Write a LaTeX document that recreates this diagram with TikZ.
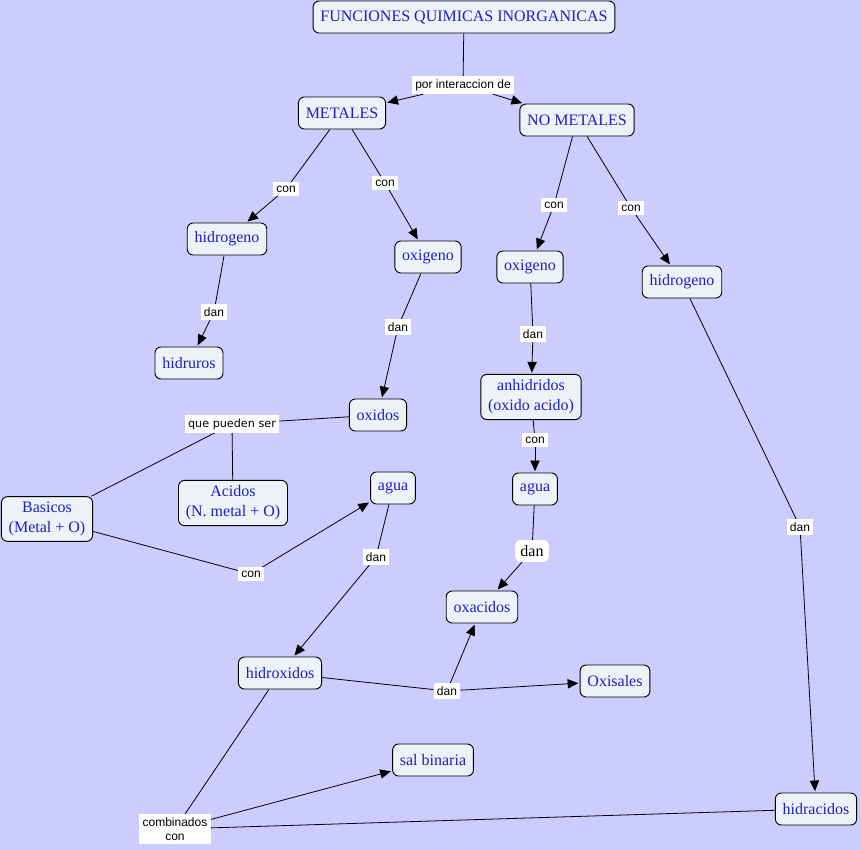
\documentclass[tikz,border=0pt]{standalone}
\usepackage{fontspec}
\setmainfont{Liberation Serif}
\setsansfont{Liberation Sans}
\newfontfamily\dejavu{DejaVu Sans}
\usetikzlibrary{arrows.meta}
\definecolor{bgc}{RGB}{204,204,255}
\definecolor{nodefill}{RGB}{236,242,246}
\definecolor{nodetext}{RGB}{30,30,200}
\tikzset{
  concept/.style={draw=black, line width=0.7pt, fill=nodefill, rounded corners=4.5pt,
    text=nodetext, font=\fontsize{12}{15}\selectfont, align=center,
    inner xsep=5.5pt, inner ysep=4pt, minimum height=24pt},
  linkl/.style={fill=white, text=black, font=\sffamily\fontsize{9}{10.5}\selectfont,
    align=center, inner xsep=2.5pt, inner ysep=2.5pt},
  biglink/.style={fill=white, text=black, rounded corners=4pt, font=\fontsize{12}{13.5}\selectfont,
    inner xsep=4pt, inner ysep=4pt},
  conn/.style={draw=black, line width=0.6pt},
  arr/.style={conn, -{Triangle[length=8pt,width=7pt]}, shorten >=1pt}
}
\begin{document}
\begin{tikzpicture}[x=0.75pt,y=-0.75pt]
\fill[bgc] (0,0) rectangle (861,850);
\useasboundingbox (0,0) rectangle (861,850);
% concepts
\node[concept] (fun) at (464,17) {FUNCIONES QUIMICAS INORGANICAS};
\node[concept] (met) at (342,113) {METALES};
\node[concept] (nomet) at (577,120) {NO METALES};
\node[concept] (hidL) at (227,239) {hidrogeno};
\node[concept] (oxiL) at (428,257) {oxigeno};
\node[concept] (hidruros) at (189,363) {hidruros};
\node[concept] (oxidos) at (378,415) {oxidos};
\node[concept] (bas) at (47,519) {Basicos\\(Metal + O)};
\node[concept] (aci) at (233,503) {Acidos\\(N. metal + O)};
\node[concept] (aguaL) at (393,488) {agua};
\node[concept] (hidrox) at (280,673) {hidroxidos};
\node[concept] (oxis) at (615,681) {Oxisales};
\node[concept] (salb) at (433,760) {sal binaria};
\node[concept] (oxiR) at (530,267) {oxigeno};
\node[concept] (hidR) at (682,282) {hidrogeno};
\node[concept] (anh) at (531,397) {anhidridos\\(oxido acido)};
\node[concept] (aguaR) at (535,489) {agua};
\node[concept] (oxac) at (482,607) {oxacidos};
\node[concept] (hidrac) at (816,809) {hidracidos};
% linking phrases
\node[linkl] (l1) at (463,85) {por interaccion de};
\node[linkl] (l2) at (286,189) {con};
\node[linkl] (l3) at (385,183) {con};
\node[linkl] (l4) at (214,312) {dan};
\node[linkl] (l5) at (398,327) {dan};
\node[linkl, font=\dejavu\fontsize{8.4}{10}\selectfont] (l6) at (232,424) {que pueden ser};
\node[linkl] (l7) at (251,574) {con};
\node[linkl] (l8) at (376,557) {dan};
\node[linkl] (l9) at (447,691) {dan};
\node[linkl] (l10) at (175,829) {combinados\\con};
\node[linkl] (l11) at (554,205) {con};
\node[linkl] (l12) at (631,208) {con};
\node[linkl] (l13) at (533,334) {dan};
\node[linkl] (l14) at (535,440) {con};
\node[biglink] (l15) at (532,551) {dan};
\node[linkl] (l16) at (800,527) {dan};
% connectors
\draw[conn] (fun) -- (l1);
\draw[arr] (l1) -- (met);
\draw[arr] (l1) -- (nomet);
\draw[conn] (met) -- (l2);
\draw[arr] (l2) -- (hidL);
\draw[conn] (met) -- (l3);
\draw[arr] (l3) -- (oxiL);
\draw[conn] (hidL) -- (l4);
\draw[arr] (l4) -- (hidruros);
\draw[conn] (oxiL) -- (l5);
\draw[arr] (l5) -- (oxidos);
\draw[conn] (oxidos) -- (l6);
\draw[conn] (l6) -- (bas);
\draw[conn] (l6) -- (aci);
\draw[conn] (bas) -- (l7);
\draw[arr] (l7) -- (aguaL);
\draw[conn] (aguaL) -- (l8);
\draw[arr] (l8) -- (hidrox);
\draw[conn] (hidrox) -- (l9);
\draw[arr] (l9) -- (oxac);
\draw[arr] (l9) -- (oxis);
\draw[conn] (hidrox) -- (l10);
\draw[conn] (hidrac) -- (l10);
\draw[arr] (l10) -- (salb);
\draw[conn] (nomet) -- (l11);
\draw[arr] (l11) -- (oxiR);
\draw[conn] (nomet) -- (l12);
\draw[arr] (l12) -- (hidR);
\draw[conn] (oxiR) -- (l13);
\draw[arr] (l13) -- (anh);
\draw[conn] (anh) -- (l14);
\draw[arr] (l14) -- (aguaR);
\draw[conn] (aguaR) -- (l15);
\draw[arr] (l15) -- (oxac);
\draw[conn] (hidR) -- (l16);
\draw[arr] (l16) -- (hidrac);
\end{tikzpicture}
\end{document}
